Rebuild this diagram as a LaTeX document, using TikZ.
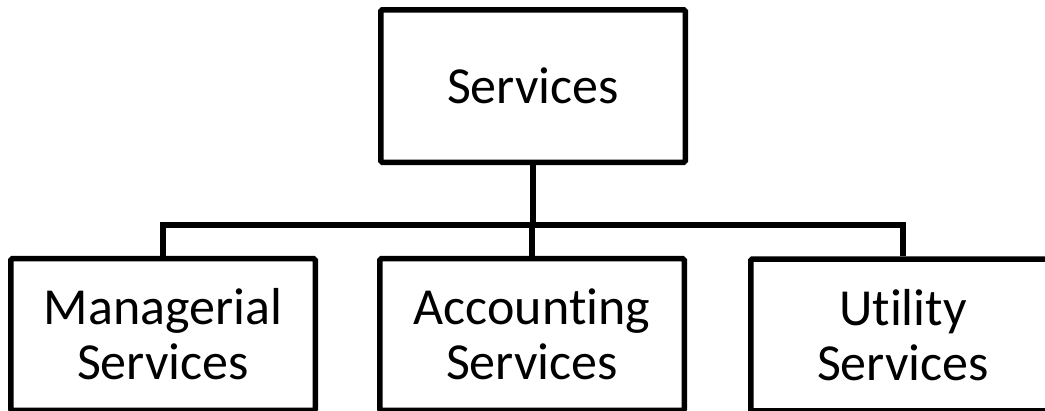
\documentclass[tikz,border=0pt]{standalone}
\usepackage{fontspec}
\setmainfont{Carlito}[RawFeature=-liga]
\begin{document}
\begin{tikzpicture}[x=1pt,y=-1pt,
  box/.style={draw, line width=5.5pt, rounded corners=1.5pt,
    minimum width=304.5pt, minimum height=151.75pt, inner sep=0pt,
    align=center, font=\fontsize{52}{55}\selectfont},
  link/.style={line width=5.5pt}]
\useasboundingbox (0,0) rectangle (1045,410);
% root and the three service groups
\node[box, minimum height=152.5pt] (root) at (533,86) {Services};
\node[box] (man)  at (163,334.6) {Managerial\\Services};
\node[box] (acc)  at (532,334.6) {Accounting\\Services};
\node[box] (uti)  at (903,335) {Utility\\Services};
% bus joining the children
\coordinate (bus) at (533,225);
\draw[link] (root.south) -- (bus);
\draw[link] (man.north) |- (uti.north |- bus) -- (uti.north);
\draw[link] (acc.north) -- (acc.north |- bus);
\end{tikzpicture}
\end{document}
